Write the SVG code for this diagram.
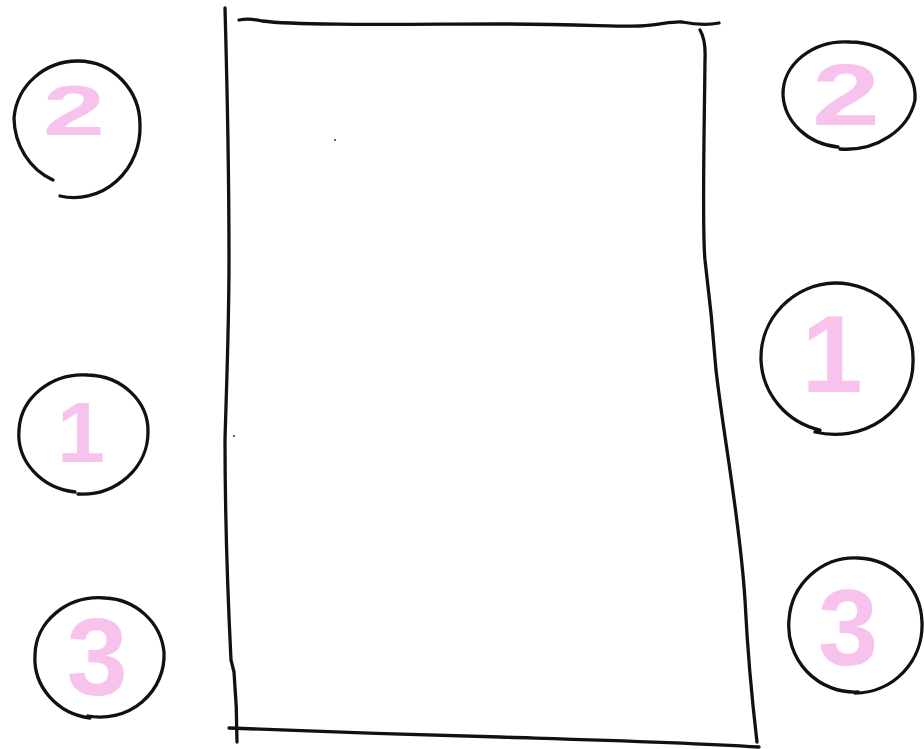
<svg xmlns="http://www.w3.org/2000/svg" width="924" height="749" viewBox="0 0 924 749">
<style>
.ink{fill:none;stroke:#111;stroke-width:3.3;stroke-linecap:round;stroke-linejoin:round}
.num{fill:#f7c3ec;font-family:"Liberation Sans",Arial,sans-serif;font-weight:bold}
</style>
<rect width="924" height="749" fill="#fff"/>
<g id="table">
<path class="ink" d="M225,8 C227,80 229,200 229,260 C229,330 226,400 225,440 C225,520 228,600 231,660 L234,672 C236,695 237,720 237,742"/>
<path class="ink" d="M239,20 Q250,18 262,21 C300,26 420,24 500,24 C580,24 620,27 640,26 C660,25 672,21 682,22 C692,24 705,26 719,23"/>
<path class="ink" d="M700,30 Q706,40 705,60 C704,150 702,230 705,260 C710,300 713,330 716,370 C724,440 740,520 745,600 C748,660 752,700 757,742"/>
<path class="ink" d="M229,728 C300,731 420,735 500,737 C600,740 680,742 759,747"/>
<circle cx="335" cy="140" r="1" fill="#333"/>
<circle cx="234" cy="436" r="1" fill="#333"/>
</g>
<g id="left-2">
<path class="ink" d="M53,180 A62,68 0 0 1 14,118 A64,62 0 0 1 78,61 A62,64 0 0 1 140,125 A66,70 0 0 1 60,196"/>
<text class="num" x="43" y="135" font-size="70" textLength="62" lengthAdjust="spacingAndGlyphs">2</text>
</g>
<g id="left-1">
<path class="ink" d="M75,492 A64,58 0 0 1 19,430 A64,58 0 0 1 88,375 A62,56 0 0 1 148,432 A66,62 0 0 1 78,494"/>
<text class="num" x="81" y="462" font-size="86" text-anchor="middle">1</text>
</g>
<g id="left-3">
<path class="ink" d="M90,718 A64,60 0 0 1 35,655 A64,58 0 0 1 105,598 A62,60 0 0 1 164,652 A64,62 0 0 1 88,716"/>
<text class="num" x="97" y="695" font-size="110" text-anchor="middle">3</text>
</g>
<g id="right-2">
<path class="ink" d="M838,147 A62,55 0 0 1 783,95 A62,52 0 0 1 850,42 A66,55 0 0 1 915,100 A70,60 0 0 1 840,149"/>
<text class="num" x="812" y="125" font-size="88" textLength="68" lengthAdjust="spacingAndGlyphs">2</text>
</g>
<g id="right-1">
<path class="ink" d="M820,430 A76,75 0 0 1 761,360 A76,75 0 0 1 835,283 A78,76 0 0 1 913,362 A78,72 0 0 1 815,432"/>
<text class="num" x="832" y="392" font-size="110" text-anchor="middle">1</text>
</g>
<g id="right-3">
<path class="ink" d="M858,692 A66,66 0 0 1 789,620 A66,66 0 0 1 858,558 A66,66 0 0 1 922,622 A67,68 0 0 1 855,693"/>
<text class="num" x="848" y="665" font-size="108" text-anchor="middle">3</text>
</g>
<g id="connectors"/>
</svg>
